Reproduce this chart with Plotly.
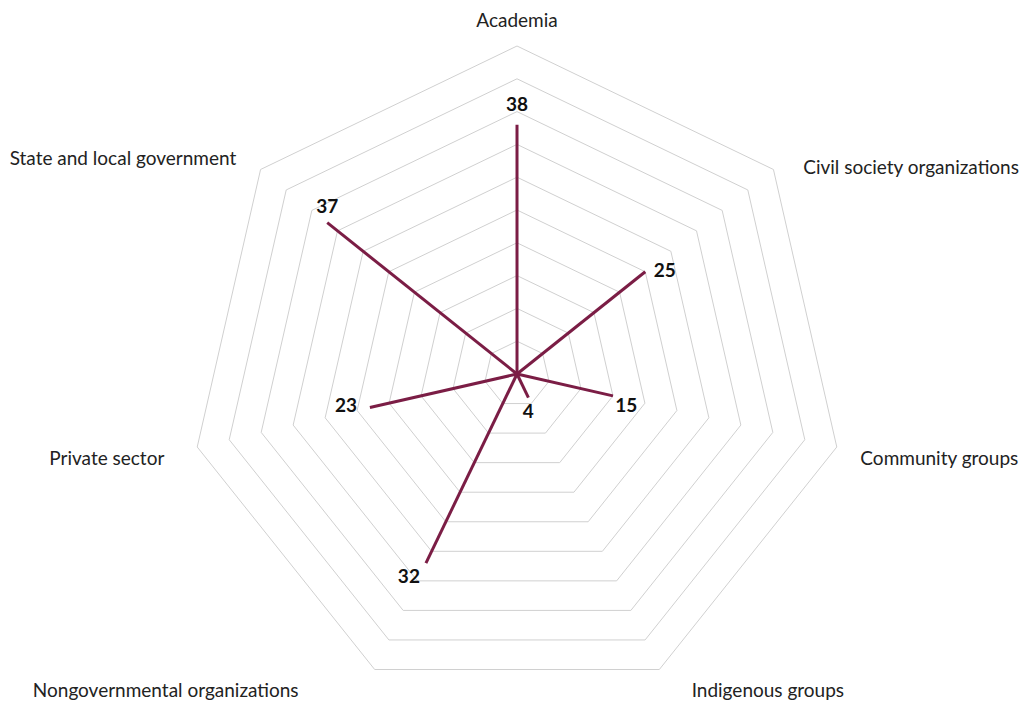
import plotly.graph_objects as go

categories = ["Academia", "Civil society organizations", "Community groups",
              "Indigenous groups", "Nongovernmental organizations",
              "Private sector", "State and local government"]
values = [38, 25, 15, 4, 32, 23, 37]

# styling for value labels (anchor and offset marker size)
value_positions = ["top center", "middle right", "bottom right", "bottom center",
                   "bottom left", "middle left", "top center"]
value_offsets = [12, 12, 2, 8, 8, 19, 6]

# styling for category labels (anchor, offset marker size, horizontal padding)
cat_label_pos = ["top center", "middle right", "bottom right", "bottom right",
                 "bottom left", "bottom left", "top left"]
cat_label_offset = [22, 46, 5, 19, 19, 5, 0]
cat_label_pad = [0, 0, 4, 4, -13, -6, -5]   # + leading, - trailing spaces

LINE = "#7b1d45"
GRID = "#d0d0d0"
NB = "\u00a0"

fig = go.Figure()
for cat, val, pos, off in zip(categories, values, value_positions, value_offsets):
    fig.add_trace(go.Scatterpolar(
        r=[0, val], theta=[cat, cat],
        mode="lines+markers+text",
        text=["", f"<b>{val}</b>"],
        textposition=pos,
        textfont=dict(size=19, color="#111111", family="Lato"),
        marker=dict(size=[0, off], color="rgba(0,0,0,0)", line=dict(width=0)),
        line=dict(color=LINE, width=3),
        hoverinfo="skip",
        showlegend=False,
        cliponaxis=False,
    ))

labels = []
for cat, pad in zip(categories, cat_label_pad):
    if pad > 0:
        labels.append(NB * pad + cat)
    elif pad < 0:
        labels.append(cat + NB * (-pad))
    else:
        labels.append(cat)

fig.add_trace(go.Scatterpolar(
    r=[50] * len(categories), theta=categories,
    mode="markers+text", text=labels, textposition=cat_label_pos,
    marker=dict(size=cat_label_offset, color="rgba(0,0,0,0)", line=dict(width=0)),
    textfont=dict(size=19, color="#222222", family="Lato"),
    hoverinfo="skip", showlegend=False, cliponaxis=False,
))

fig.update_layout(
    width=1025, height=702,
    margin=dict(l=0, r=0, t=46, b=0),
    paper_bgcolor="white",
    font=dict(family="Lato", size=19, color="#222222"),
    polar=dict(
        domain=dict(x=[0.1844, 0.8244], y=[0, 1]),
        bgcolor="white",
        gridshape="linear",
        radialaxis=dict(range=[0, 50], dtick=5, showticklabels=False, ticks="",
                        showline=False, gridcolor=GRID, gridwidth=1),
        angularaxis=dict(rotation=90, direction="clockwise",
                         categoryorder="array", categoryarray=categories,
                         showgrid=False, showline=True, linecolor=GRID, linewidth=1,
                         ticks="", showticklabels=False),
    ),
)

fig.write_html("out.html",
               config={"displayModeBar": False},
               post_script="document.body.style.margin='0';document.body.style.overflow='hidden';")
